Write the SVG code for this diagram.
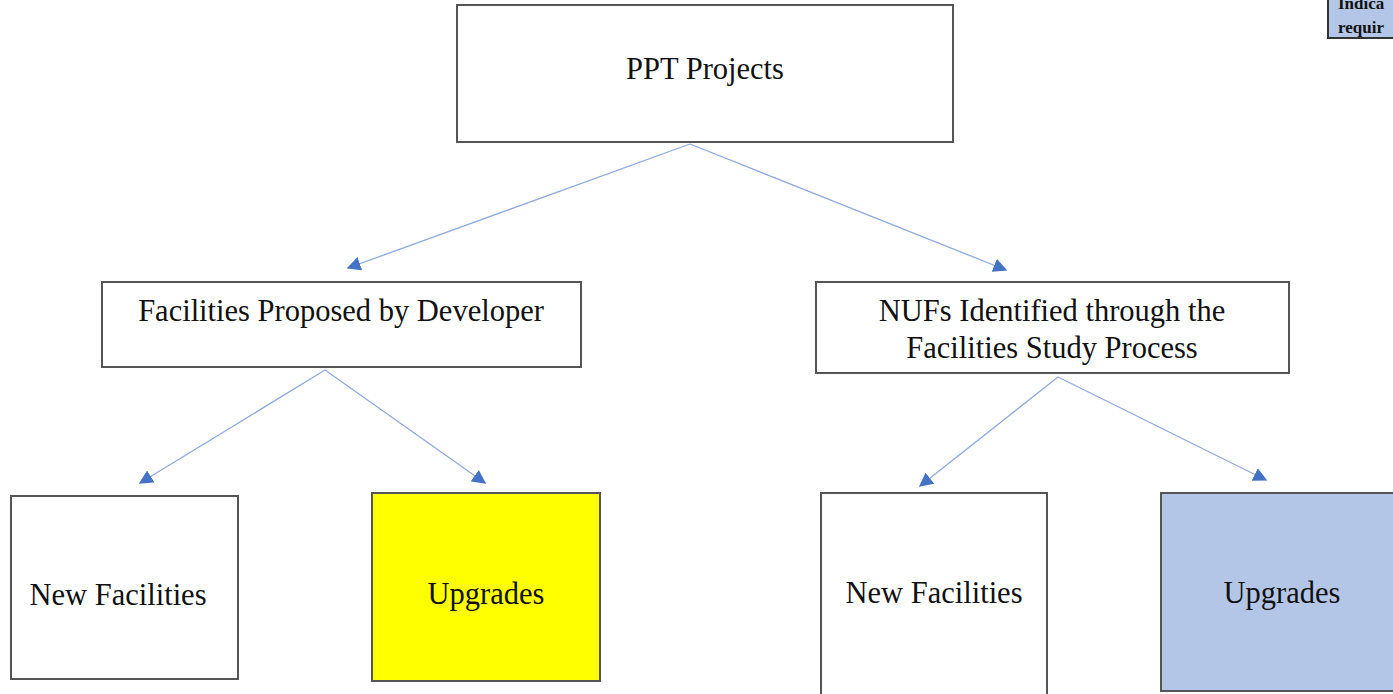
<svg xmlns="http://www.w3.org/2000/svg" width="1393" height="694" viewBox="0 0 1393 694">
<defs>
<style>
.box{stroke:#555;stroke-width:2;fill:#fff}
.t{font-family:"Liberation Serif","Times New Roman",serif;font-size:30.5px;fill:#111;text-anchor:middle}
.lg{font-family:"Liberation Serif","Times New Roman",serif;font-weight:bold;font-size:17px;fill:#111}
.c{stroke:#8faadc;stroke-width:1.3;fill:none;marker-end:url(#ah)}
</style>
<marker id="ah" viewBox="0 0 10 10" refX="9" refY="5" markerWidth="14" markerHeight="14" markerUnits="userSpaceOnUse" orient="auto">
<path d="M0,0 L10,5 L0,10 z" fill="#4472c4"/>
</marker>
</defs>
<rect width="1393" height="694" fill="#fff"/>
<g id="legend">
<rect x="1328" y="-5" width="80" height="43" fill="#b4c6e7" stroke="#333" stroke-width="2"/>
<text class="lg" x="1338" y="9">Indica</text>
<text class="lg" x="1338" y="33">requir</text>
</g>
<g id="connectors">
<line class="c" x1="690" y1="144" x2="348" y2="268"/>
<line class="c" x1="690" y1="144" x2="1006" y2="270"/>
<line class="c" x1="325" y1="370" x2="140" y2="483"/>
<line class="c" x1="325" y1="370" x2="485" y2="483"/>
<line class="c" x1="1058" y1="377" x2="920" y2="486"/>
<line class="c" x1="1058" y1="377" x2="1266" y2="480"/>
</g>
<g id="ppt">
<rect class="box" x="457" y="5" width="496" height="137"/>
<text class="t" x="705" y="79">PPT Projects</text>
</g>
<g id="developer">
<rect class="box" x="102" y="282" width="479" height="85"/>
<text class="t" x="341" y="321">Facilities Proposed by Developer</text>
</g>
<g id="nufs">
<rect class="box" x="816" y="282" width="473" height="91"/>
<text class="t" x="1052" y="321">NUFs Identified through the</text>
<text class="t" x="1052" y="358">Facilities Study Process</text>
</g>
<g id="dev-new">
<rect class="box" x="11" y="496" width="227" height="183"/>
<text class="t" x="118" y="605">New Facilities</text>
</g>
<g id="dev-upg">
<rect class="box" x="372" y="493" width="228" height="188" style="fill:#ffff00"/>
<text class="t" x="486" y="604">Upgrades</text>
</g>
<g id="nuf-new">
<rect class="box" x="821" y="493" width="226" height="210"/>
<text class="t" x="934" y="603">New Facilities</text>
</g>
<g id="nuf-upg">
<rect class="box" x="1161" y="493" width="250" height="198" style="fill:#b4c6e7"/>
<text class="t" x="1282" y="603">Upgrades</text>
</g>
</svg>
